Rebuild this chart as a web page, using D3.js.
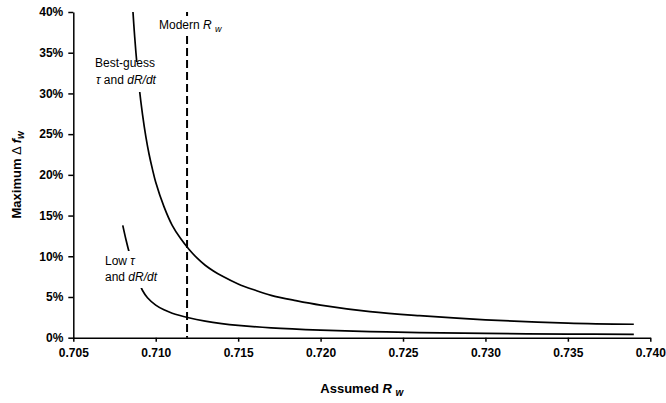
<!DOCTYPE html>
<html>
<head>
<meta charset="utf-8">
<script src="https://cdn.jsdelivr.net/npm/d3@7"></script>
<style>
  body { margin: 0; background: #fff; }
  svg { font-family: Arial, "Liberation Sans", sans-serif; }
  .axis path, .axis line { stroke: #000; stroke-width: 1.5; }
  .axis text { font-size: 12px; font-weight: bold; fill: #000; }
</style>
</head>
<body>
<div id="chart"></div>
<script>
//Chart values
var xTicks = [0.705, 0.710, 0.715, 0.720, 0.725, 0.730, 0.735, 0.740];
var yTicks = [0, 0.05, 0.10, 0.15, 0.20, 0.25, 0.30, 0.35, 0.40];
var modernRw = 0.7119;

//Best-guess tau and dR/dt
var bestR = [0.70862, 0.7087, 0.7088, 0.7090, 0.7092, 0.7094, 0.7096, 0.7098, 0.7100, 0.7105, 0.7110, 0.7115, 0.7120, 0.7125, 0.7130, 0.7135, 0.7140, 0.7150, 0.7160, 0.7170, 0.7185, 0.7200, 0.7230, 0.7260, 0.7300, 0.7350, 0.7390];
var bestF = [40.0, 37.6, 35.0, 30.7, 27.4, 24.7, 22.5, 20.7, 19.1, 16.1, 13.8, 12.2, 10.9, 9.8, 8.9, 8.2, 7.6, 6.6, 5.85, 5.2, 4.55, 4.0, 3.2, 2.7, 2.2, 1.8, 1.65];

//Low tau and dR/dt
var lowR = [0.7080, 0.7082, 0.7084, 0.7086, 0.7088, 0.7090, 0.7092, 0.7095, 0.7100, 0.7105, 0.7110, 0.7120, 0.7130, 0.7140, 0.7150, 0.7170, 0.7200, 0.7230, 0.7260, 0.7300, 0.7350, 0.7390];
var lowF = [13.8, 12.0, 10.4, 9.0, 7.8, 6.7, 5.8, 4.9, 4.0, 3.42, 3.0, 2.45, 2.04, 1.74, 1.52, 1.21, 0.93, 0.75, 0.63, 0.52, 0.44, 0.42];

var width = 666, height = 403;
var plotLeft = 73.3, plotRight = 650.3, plotTop = 12, plotBottom = 337.7;

var svg = d3.select("#chart")
    .append("svg")
    .attr("width", width)
    .attr("height", height);

var x = d3.scaleLinear().domain([0.705, 0.740]).range([plotLeft, plotRight]);
var y = d3.scaleLinear().domain([0, 0.40]).range([plotBottom, plotTop]);

var line = d3.line()
    .x(function(d) { return x(d[0]); })
    .y(function(d) { return y(d[1] / 100); })
    .curve(d3.curveCatmullRom.alpha(0.5));

function pairs(a, b) {
    return a.map(function(v, i) { return [v, b[i]]; });
}

//Curves
svg.append("path")
    .datum(pairs(bestR, bestF))
    .attr("d", line)
    .attr("fill", "none")
    .attr("stroke", "#000")
    .attr("stroke-width", 1.7);

svg.append("path")
    .datum(pairs(lowR, lowF))
    .attr("d", line)
    .attr("fill", "none")
    .attr("stroke", "#000")
    .attr("stroke-width", 1.7);

//Modern Rw dashed line
svg.append("line")
    .attr("x1", x(modernRw))
    .attr("x2", x(modernRw))
    .attr("y1", y(0.40))
    .attr("y2", y(0))
    .attr("stroke", "#000")
    .attr("stroke-width", 2)
    .attr("stroke-dasharray", "8,4");

//Label boxes (white, hiding the lines behind)
function box(x0, y0, w, h) {
    svg.append("rect")
        .attr("x", x0).attr("y", y0)
        .attr("width", w).attr("height", h)
        .attr("fill", "#fff");
}
box(157, 16, 72, 20);
box(94, 62, 70, 30);
box(103, 251, 62, 37);

function label(xp, yp, parts) {
    var t = svg.append("text")
        .attr("x", xp)
        .attr("y", yp)
        .style("font-size", "12px")
        .attr("fill", "#000");
    parts.forEach(function(p) {
        var s = t.append("tspan").text(p.t);
        if (p.i) s.style("font-style", "italic");
        if (p.sub) s.attr("baseline-shift", "-30%").style("font-size", "9px");
    });
    return t;
}

label(159, 29, [{t: "Modern "}, {t: "R", i: true}, {t: " "}, {t: "w", i: true, sub: true}]);
label(95, 67, [{t: "Best-guess"}]);
label(96, 84, [{t: "\u03c4", i: true}, {t: " and "}, {t: "dR/dt", i: true}]);
label(105, 265, [{t: "Low "}, {t: "\u03c4", i: true}]);
label(105, 281, [{t: "and "}, {t: "dR/dt", i: true}]);

//Axes
var xAxis = d3.axisBottom(x)
    .tickValues(xTicks)
    .tickSizeInner(4)
    .tickSizeOuter(0)
    .tickPadding(7)
    .tickFormat(d3.format(".3f"));

var yAxis = d3.axisLeft(y)
    .tickValues(yTicks)
    .tickSizeInner(5)
    .tickSizeOuter(0)
    .tickPadding(5)
    .tickFormat(d3.format(".0%"));

svg.append("g")
    .attr("class", "axis")
    .attr("transform", "translate(0," + plotBottom + ")")
    .call(xAxis);

svg.append("g")
    .attr("class", "axis")
    .attr("transform", "translate(" + plotLeft + ",0)")
    .call(yAxis);

//Axis titles
var xt = svg.append("text")
    .attr("x", (plotLeft + plotRight) / 2)
    .attr("y", 393)
    .attr("text-anchor", "middle")
    .style("font-size", "13px")
    .style("font-weight", "bold");
xt.append("tspan").text("Assumed ");
xt.append("tspan").text("R").style("font-style", "italic");
xt.append("tspan").text(" ");
xt.append("tspan").text("w").style("font-style", "italic").style("font-size", "10px").attr("baseline-shift", "-30%");

var yt = svg.append("text")
    .attr("transform", "translate(21," + ((plotTop + plotBottom) / 2) + ") rotate(-90)")
    .attr("text-anchor", "middle")
    .style("font-size", "13px")
    .style("font-weight", "bold");
yt.append("tspan").text("Maximum ");
yt.append("tspan").text("\u0394 ").style("font-weight", "normal");
yt.append("tspan").text("f").style("font-style", "italic");
yt.append("tspan").text("w").style("font-style", "italic").style("font-size", "10px").attr("baseline-shift", "-30%");
</script>
</body>
</html>
